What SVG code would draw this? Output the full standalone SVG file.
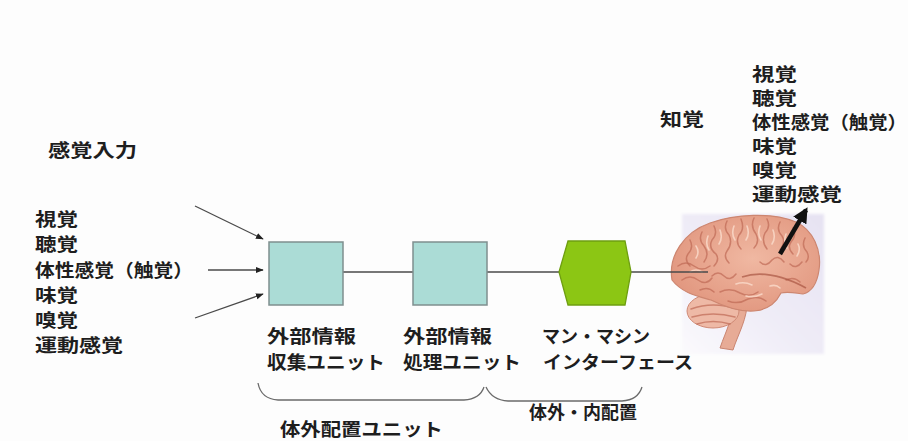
<svg xmlns="http://www.w3.org/2000/svg" width="908" height="441" viewBox="0 0 908 441">
  <defs>
    <style>
      .t { font-family: "Noto Sans CJK JP", "Noto Sans", sans-serif; font-size: 18px; font-weight: 700; fill: #1e1e1e; }
      .ln { stroke: #4a4a4a; stroke-width: 1.3; fill: none; }
      .brace { stroke: #6a6a6a; stroke-width: 1.3; fill: none; }
      .unit { fill: #abdcd6; stroke: #7f8f8e; stroke-width: 1.5; }
      .gyr { fill: none; stroke: #bf6a55; stroke-width: 1.5; stroke-linecap: round; opacity: 0.7; }
      .hl { fill: none; stroke: #f9d8c8; stroke-width: 1.6; stroke-linecap: round; opacity: 0.85; }
    </style>
    <marker id="dot" viewBox="0 0 10 10" refX="9" refY="5" markerWidth="6" markerHeight="6" orient="auto">
      <path d="M0,1 L10,5 L0,9 Z" fill="#222"/>
    </marker>
    <marker id="big" viewBox="0 0 10 10" refX="8" refY="5" markerWidth="3.4" markerHeight="3.4" orient="auto">
      <path d="M0,0 L10,5 L0,10 Z" fill="#111"/>
    </marker>
    <linearGradient id="bg" x1="1" y1="0" x2="0" y2="1">
      <stop offset="0" stop-color="#e6e2f2"/>
      <stop offset="0.55" stop-color="#efecf7"/>
      <stop offset="1" stop-color="#fbfafd"/>
    </linearGradient>
    <radialGradient id="brainFill" cx="0.55" cy="0.45" r="0.65">
      <stop offset="0" stop-color="#f0b8a2"/>
      <stop offset="1" stop-color="#e0947c"/>
    </radialGradient>
    <filter id="soft" x="-10%" y="-10%" width="120%" height="120%"><feGaussianBlur stdDeviation="1.5"/></filter>
    <filter id="blur05"><feGaussianBlur stdDeviation="0.5"/></filter>
  </defs>

  <rect width="908" height="441" fill="#fdfdfd"/>

  <!-- brain / perception -->
  <g id="brain">
    <rect x="682" y="214" width="142" height="140" fill="url(#bg)" filter="url(#soft)"/>
    <g filter="url(#blur05)">
      <!-- brainstem -->
      <path d="M731,298 C735,316 726,330 720,348 L733,350 C738,334 748,318 747,300 Z" fill="#e7ab96" stroke="#c98470" stroke-width="1"/>
      <!-- cerebellum -->
      <ellipse cx="713" cy="311" rx="26" ry="17" fill="#eeb9a6" stroke="#cf8a76" stroke-width="1"/>
      <path class="gyr" d="M691,309 Q713,301 737,309 M692,317 Q713,311 735,317 M697,324 Q713,319 730,324" stroke-width="0.9" opacity="0.5"/>
      <!-- cerebrum -->
      <path d="M672,280 C668,256 684,232 710,223 C735,214 772,212 796,222 C813,230 822,250 819,270 C817,284 811,292 803,294 C795,293 788,291 781,293 C776,303 767,310 754,311 C738,312 723,306 711,300 C697,296 682,293 672,280 Z" fill="url(#brainFill)" stroke="#cd8670" stroke-width="1.2"/>
      <!-- gyri -->
      <path class="gyr" d="M690,240 q4,8 -2,14 q-4,6 2,12 M702,232 q-4,8 2,14 q6,8 0,16 M714,226 q4,8 -2,14 q-4,8 4,14 q4,6 -2,12 M727,221 q-4,8 2,14 q4,8 -2,16 q-4,6 2,12 M741,219 q4,10 -2,16 q-4,8 2,14 M754,218 q-4,8 2,16 q4,8 -2,14 M767,219 q4,8 -2,14 q-4,8 2,16 M780,222 q-4,8 2,14 q4,6 -2,14 M793,228 q4,8 -2,14 q-4,6 2,12 M805,238 q-4,8 2,14 q3,6 -1,10"/>
      <path class="gyr" d="M678,266 q8,-6 16,0 q8,6 16,0 M682,280 q8,-6 16,0 q8,6 14,-2 M700,290 q8,-4 14,2 M712,276 q6,-6 12,0 q6,6 12,-2 M720,292 q10,-5 20,1 q10,5 18,-1 M728,301 q10,4 20,-2 q10,-4 18,2 M760,262 q6,6 12,-2 q6,-6 12,2 M790,264 q6,6 12,-2 M786,280 q8,-4 14,2"/>
      <!-- lateral sulcus -->
      <path d="M742,277 C760,271 782,275 806,288" fill="none" stroke="#a95643" stroke-width="1.8" opacity="0.7"/>
      <path class="hl" d="M696,246 q4,6 0,12 M708,236 q-3,8 1,14 M720,230 q3,8 -1,14 M734,226 q-3,8 1,14 M747,226 q3,8 -1,14 M760,226 q-3,8 1,14 M773,230 q3,8 -1,14 M786,234 q-3,8 1,14 M798,244 q3,6 -1,12 M690,272 q6,-4 12,0 M736,284 q8,-3 16,1 M746,296 q8,2 16,-2 M770,286 q6,-2 10,2"/>
    </g>
    <!-- perception arrow -->
    <line x1="780" y1="254" x2="806" y2="210" stroke="#111" stroke-width="4.5" marker-end="url(#big)"/>
  </g>

  <!-- sensory inputs -->
  <g id="input-label">
    <text class="t" x="48" y="157" textLength="89" lengthAdjust="spacingAndGlyphs">感覚入力</text>
  </g>
  <g id="input-list">
    <text class="t" x="35" y="226" textLength="43" lengthAdjust="spacingAndGlyphs">視覚</text>
    <text class="t" x="35" y="251" textLength="43" lengthAdjust="spacingAndGlyphs">聴覚</text>
    <text class="t" x="35" y="277" textLength="158" lengthAdjust="spacingAndGlyphs">体性感覚（触覚）</text>
    <text class="t" x="35" y="302" textLength="43" lengthAdjust="spacingAndGlyphs">味覚</text>
    <text class="t" x="35" y="327" textLength="43" lengthAdjust="spacingAndGlyphs">嗅覚</text>
    <text class="t" x="35" y="352" textLength="88" lengthAdjust="spacingAndGlyphs">運動感覚</text>
  </g>

  <!-- connectors -->
  <g id="connectors">
    <line class="ln" x1="195" y1="206" x2="263" y2="239" marker-end="url(#dot)"/>
    <line class="ln" x1="208" y1="270" x2="263" y2="270" marker-end="url(#dot)"/>
    <line class="ln" x1="195" y1="318" x2="263" y2="294" marker-end="url(#dot)"/>
    <line class="ln" x1="343" y1="272" x2="413" y2="272"/>
    <line class="ln" x1="487" y1="272" x2="559" y2="272"/>
    <line class="ln" x1="631" y1="272" x2="708" y2="272"/>
  </g>

  <!-- external information collection unit -->
  <g id="collect-unit">
    <rect class="unit" x="269" y="242" width="74" height="63"/>
    <text class="t" x="267" y="343" textLength="89" lengthAdjust="spacingAndGlyphs">外部情報</text>
    <text class="t" x="267" y="369" textLength="118" lengthAdjust="spacingAndGlyphs">収集ユニット</text>
  </g>

  <!-- external information processing unit -->
  <g id="process-unit">
    <rect class="unit" x="413" y="242" width="74" height="63"/>
    <text class="t" x="403" y="343" textLength="89" lengthAdjust="spacingAndGlyphs">外部情報</text>
    <text class="t" x="403" y="369" textLength="118" lengthAdjust="spacingAndGlyphs">処理ユニット</text>
  </g>

  <!-- man-machine interface -->
  <g id="mmi">
    <polygon points="568,241 625,241 631,272 625,305 568,305 559,272" fill="#8cc614" stroke="#6e9e10" stroke-width="1.3"/>
    <text class="t" x="542" y="343">マン・マシン</text>
    <text class="t" x="543" y="369" textLength="150" lengthAdjust="spacingAndGlyphs">インターフェース</text>
  </g>

  <!-- grouping braces -->
  <g id="external-group">
    <path class="brace" d="M258,383 Q261,399 278,400 L464,400 Q480,399 484,387"/>
    <text class="t" x="280" y="436" textLength="163" lengthAdjust="spacingAndGlyphs">体外配置ユニット</text>
  </g>
  <g id="interface-group">
    <path class="brace" d="M486,387 Q492,400 508,401 L622,401 Q638,400 642,387"/>
    <text class="t" x="529" y="419">体外・内配置</text>
  </g>

  <g id="perception-label">
    <text class="t" x="660" y="126" textLength="44" lengthAdjust="spacingAndGlyphs">知覚</text>
  </g>
  <g id="perception-list">
    <text class="t" x="752" y="81" textLength="45" lengthAdjust="spacingAndGlyphs">視覚</text>
    <text class="t" x="752" y="105" textLength="45" lengthAdjust="spacingAndGlyphs">聴覚</text>
    <text class="t" x="752" y="129" textLength="155" lengthAdjust="spacingAndGlyphs">体性感覚（触覚）</text>
    <text class="t" x="752" y="153" textLength="45" lengthAdjust="spacingAndGlyphs">味覚</text>
    <text class="t" x="752" y="177" textLength="45" lengthAdjust="spacingAndGlyphs">嗅覚</text>
    <text class="t" x="752" y="201" textLength="90" lengthAdjust="spacingAndGlyphs">運動感覚</text>
  </g>
</svg>
